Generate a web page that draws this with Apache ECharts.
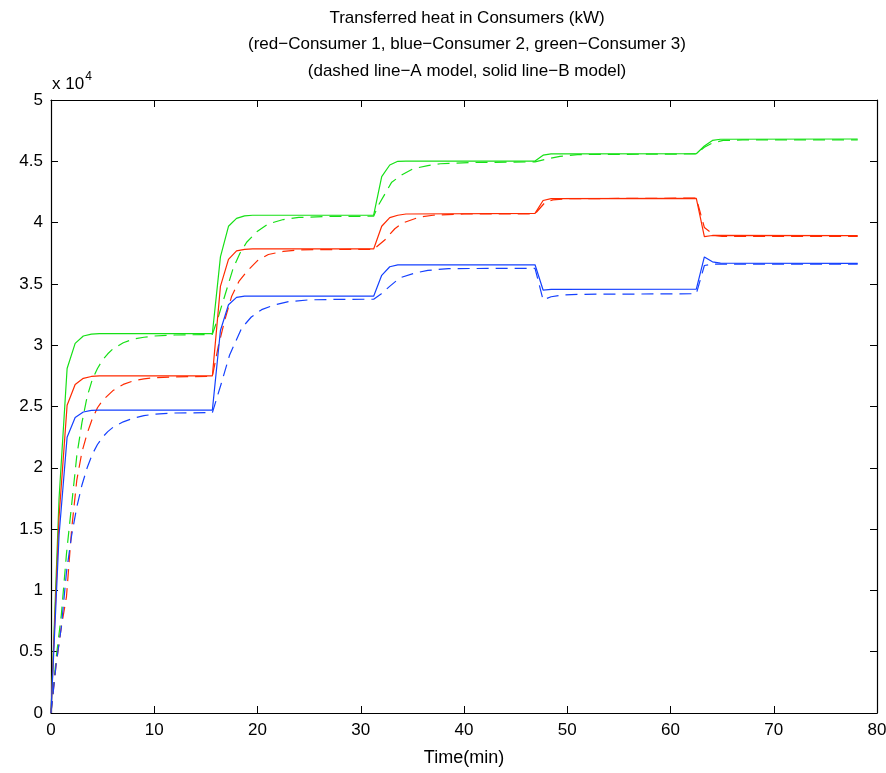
<!DOCTYPE html>
<html>
<head>
<meta charset="utf-8">
<script src="https://cdn.jsdelivr.net/npm/echarts@6/dist/echarts.min.js"></script>
<style>html,body{margin:0;padding:0;background:#fff;}#c{width:886px;height:773px;}</style>
</head>
<body>
<div id="c"></div>
<script>
// Tick labels
const xTicks = [0, 10, 20, 30, 40, 50, 60, 70, 80];
const yTickLabels = ['0', '0.5', '1', '1.5', '2', '2.5', '3', '3.5', '4', '4.5', '5'];
const titleLines = ['Transferred heat in Consumers (kW)', '(red\u2212Consumer 1, blue\u2212Consumer 2, green\u2212Consumer 3)', '(dashed line\u2212A model, solid line\u2212B model)'];

// Consumer 1 (red), B model (solid) : [time (min), heat (kW)]
const redB = [[0,0],[0.78,16000],[1.56,25100],[2.34,26800],[3.13,27300],[3.91,27450],[4.69,27500],[15.63,27500],
 [16.41,34800],[17.19,37000],[17.97,37700],[18.75,37820],[19.53,37850],[31.25,37850],
 [32.03,39700],[32.81,40400],[33.59,40600],[34.38,40700],[46.88,40750],
 [47.66,41800],[48.44,41950],[62.5,41980],
 [63.28,38850],[64.06,38950],[78.13,38930]];
// Consumer 1 (red), A model (dashed)
const redA = [[0,0],[0.5,4000],[1.0,7000],[1.5,9500],[2.0,15000],[2.5,19000],[3.0,21300],[3.5,22800],[4.0,24000],[4.5,24900],[5.0,25500],[6.0,26300],[7.0,26800],[8.0,27100],[9.0,27250],[10.0,27350],[12.0,27420],[15.63,27450],
 [16.2,29900],[16.85,32100],[17.5,34000],[18.2,35200],[18.95,36000],[20.0,36900],[21.05,37400],[22.5,37650],[24.0,37780],[27.0,37800],[31.25,37820],
 [32.35,38600],[33.3,39500],[34.0,39950],[35.7,40450],[37.0,40600],[40.0,40700],[46.88,40720],
 [47.8,41600],[48.6,41850],[50.0,41950],[62.5,42000],
 [63.28,39600],[64.3,38950],[65.0,38880],[78.13,38880]];
// Consumer 2 (blue), B model (solid)
const blueB = [[0,0],[0.78,14500],[1.56,22500],[2.34,24100],[3.13,24550],[3.91,24680],[4.69,24700],[15.63,24700],
 [16.41,31200],[17.19,33300],[17.97,33900],[18.75,34000],[31.25,34000],
 [32.03,35700],[32.81,36400],[33.59,36550],[46.88,36560],
 [47.66,34500],[48.44,34550],[62.5,34570],
 [63.28,37200],[64.06,36800],[64.84,36700],[78.13,36680]];
// Consumer 2 (blue), A model (dashed)
const blueA = [[0,0],[0.5,4000],[1.0,7000],[1.5,11500],[2.0,14500],[2.5,16800],[3.0,18600],[3.5,20000],[4.0,21100],[4.5,21900],[5.0,22500],[5.5,22950],[6.0,23300],[7.0,23750],[8.0,24050],[9.0,24250],[10.0,24380],[12.0,24470],[15.63,24500],
 [16.5,26900],[17.3,29200],[18.47,31400],[19.4,32300],[20.4,32900],[21.5,33250],[23.0,33550],[25.0,33700],[28.0,33740],[31.25,33750],
 [32.0,34200],[32.8,34800],[33.8,35500],[35.3,35900],[36.5,36100],[38.5,36250],[46.88,36270],
 [47.66,33700],[48.44,33950],[49.5,34100],[51.0,34150],[62.5,34200],
 [63.28,36500],[64.06,36620],[78.13,36620]];
// Consumer 3 (green), B model (solid)
const greenB = [[0,0],[0.78,17500],[1.56,28100],[2.34,30150],[3.13,30750],[3.91,30900],[4.69,30950],[15.63,30950],
 [16.41,37200],[17.19,39700],[17.97,40350],[18.75,40550],[19.53,40600],[31.25,40600],
 [32.03,43750],[32.81,44700],[33.59,45000],[34.38,45020],[46.88,45020],
 [47.66,45500],[48.44,45600],[62.5,45620],
 [63.28,46250],[64.06,46700],[64.84,46800],[78.13,46820]];
// Consumer 3 (green), A model (dashed)
const greenA = [[0,0],[0.5,4500],[1.0,8000],[1.5,13000],[2.0,17000],[2.5,21000],[3.0,23700],[3.5,25800],[4.0,27200],[4.5,28100],[5.0,28800],[5.5,29300],[6.0,29700],[7.0,30200],[8.0,30500],[9.0,30650],[10.0,30750],[12.0,30830],[15.63,30880],
 [16.2,32300],[17.0,34500],[17.65,36300],[18.3,37500],[18.95,38400],[20.0,39300],[21.05,39900],[22.5,40250],[24.0,40420],[27.0,40500],[31.25,40520],
 [31.7,41400],[33.0,43300],[34.0,43900],[35.1,44400],[36.5,44650],[37.7,44800],[40.6,44900],[46.88,44950],
 [48.1,45200],[49.3,45400],[51.0,45550],[62.5,45600],
 [63.28,46150],[64.06,46500],[65.1,46700],[67.0,46740],[78.13,46750]];

const RED = '#ff2a00', BLUE = '#1440ff', GREEN = '#16e016';
const FONT = 'Liberation Sans, Arial, Helvetica, sans-serif';

function mk(name, data, color, dashed) {
  return {
    name: name, type: 'line', data: data, showSymbol: false, symbol: 'none',
    animation: false, smooth: false, xAxisIndex: 0, yAxisIndex: 0,
    lineStyle: { color: color, width: 1.2, type: dashed ? [12, 7] : 'solid' }
  };
}

const chart = echarts.init(document.getElementById('c'), null, { renderer: 'canvas' });
const axisCommon = {
  axisLine: { show: true, onZero: false, lineStyle: { color: '#000', width: 1.2 } },
  axisTick: { show: true, inside: true, length: 7, lineStyle: { color: '#000', width: 1 } },
  splitLine: { show: false }
};
chart.setOption({
  backgroundColor: '#fff',
  animation: false,
  grid: { left: 51, right: 9, top: 100, bottom: 60, containLabel: false, outerBoundsMode: 'none' },
  xAxis: [
    Object.assign({ type: 'value', min: 0, max: 80, interval: 10, position: 'bottom',
      name: 'Time(min)', nameLocation: 'middle', nameGap: 36,
      nameTextStyle: { fontFamily: FONT, fontSize: 18, color: '#000' },
      axisLabel: { fontFamily: FONT, fontSize: 17, color: '#000', margin: 9,
        formatter: function (v) { return xTicks.indexOf(v) >= 0 ? String(v) : ''; } } }, axisCommon),
    Object.assign({ type: 'value', min: 0, max: 80, interval: 10, position: 'top',
      axisLabel: { show: false } }, axisCommon)
  ],
  yAxis: [
    Object.assign({ type: 'value', min: 0, max: 50000, interval: 5000, position: 'left',
      axisLabel: { fontFamily: FONT, fontSize: 17, color: '#000', margin: 8,
        formatter: function (v) { return yTickLabels[Math.round(v / 5000)]; } } }, axisCommon),
    Object.assign({ type: 'value', min: 0, max: 50000, interval: 5000, position: 'right',
      axisLabel: { show: false } }, axisCommon)
  ],
  series: [
    mk('Consumer 3 A', greenA, GREEN, true),
    mk('Consumer 1 A', redA, RED, true),
    mk('Consumer 2 A', blueA, BLUE, true),
    mk('Consumer 3 B', greenB, GREEN, false),
    mk('Consumer 1 B', redB, RED, false),
    mk('Consumer 2 B', blueB, BLUE, false)
  ],
  graphic: [
    { type: 'text', x: 467, y: 18, style: { text: titleLines[0], fontFamily: FONT, fontSize: 17, fill: '#000', align: 'center', verticalAlign: 'middle' } },
    { type: 'text', x: 467, y: 44, style: { text: titleLines[1], fontFamily: FONT, fontSize: 17, fill: '#000', align: 'center', verticalAlign: 'middle' } },
    { type: 'text', x: 467, y: 71, style: { text: titleLines[2], fontFamily: FONT, fontSize: 17, fill: '#000', align: 'center', verticalAlign: 'middle' } },
    { type: 'text', x: 52, y: 84, style: { text: '{a|x 10}{b|4}', fontFamily: FONT, fill: '#000', verticalAlign: 'middle',
      rich: { a: { fontSize: 17, fontFamily: FONT, fill: '#000' }, b: { fontSize: 12, fontFamily: FONT, fill: '#000', padding: [0, 0, 14, 1] } } } }
  ]
});
</script>
</body>
</html>
